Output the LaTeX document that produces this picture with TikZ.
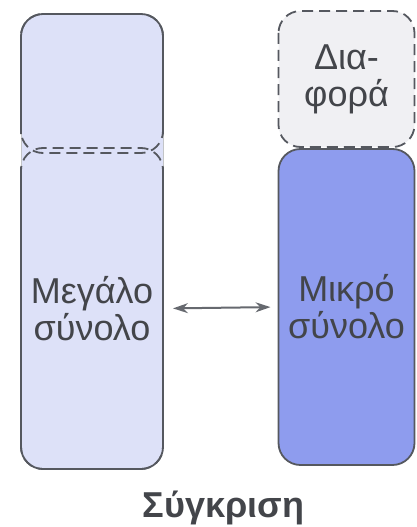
\documentclass[tikz,border=0pt]{standalone}
\usepackage{fontspec}
\setmainfont{Liberation Sans}
\usetikzlibrary{arrows.meta}
\definecolor{lightbox}{HTML}{DDE1F8}
\definecolor{darkbox}{HTML}{8E9CEE}
\definecolor{diffbox}{HTML}{F0F0F3}
\definecolor{edgecol}{HTML}{55585F}
\definecolor{txtcol}{HTML}{43454A}
\tikzset{
  boxfill/.style={rectangle, rounded corners=22pt, inner sep=0pt, outer sep=0pt, text=txtcol, font=\fontsize{36}{37}\selectfont, align=center},
  edge/.style={draw=edgecol, line width=1.8pt},
  faint/.style={draw=edgecol!35, line width=0.8pt},
  seam/.style={draw=edgecol, line width=1.8pt, dash pattern=on 11pt off 6pt},
  arr/.style={draw=edgecol!90, line width=2pt, {Stealth[length=15pt,width=10pt]}-{Stealth[length=15pt,width=10pt]}}
}
\begin{document}
\begin{tikzpicture}[x=1pt,y=-1pt]
\useasboundingbox (0,0) rectangle (417,527);
% left (large set)
\node[boxfill, fill=lightbox, minimum width=142pt, minimum height=139pt] (bigtop) at (92,83.5) {};
\node[boxfill, fill=lightbox, minimum width=142pt, minimum height=321pt] (big) at (92,308.5) {Μεγάλο\\σύνολο};
\fill[lightbox] ([yshift=22pt]bigtop.south west) rectangle ([yshift=-22pt]big.north east);
\draw[faint] ([yshift=22pt]bigtop.south west) -- ([yshift=-22pt]big.north west);
\draw[faint] ([yshift=22pt]bigtop.south east) -- ([yshift=-22pt]big.north east);
\draw[seam, rounded corners=22pt] (bigtop.north west) rectangle (bigtop.south east);
\draw[seam, rounded corners=22pt] (big.north west) rectangle (big.south east);
\draw[edge, rounded corners=22pt] ([yshift=19pt]bigtop.south west) -- (bigtop.north west) -- (bigtop.north east) -- ([yshift=19pt]bigtop.south east);
\draw[edge, rounded corners=22pt] ([yshift=-19pt]big.north west) -- (big.south west) -- (big.south east) -- ([yshift=-19pt]big.north east);
% right (difference + small set)
\node[boxfill, fill=diffbox, minimum width=136pt, minimum height=136pt] (diff) at (346.5,79) {Δια-\\φορά};
\draw[seam, rounded corners=22pt] (diff.north west) rectangle (diff.south east);
\node[boxfill, fill=darkbox, edge, minimum width=136pt, minimum height=316pt] (small) at (346.5,307) {Μικρό\\σύνολο};
% arrow
\draw[arr, shorten <=10pt, shorten >=8pt] (big.east) -- (small.west);
% caption
\node[text=txtcol, font=\bfseries\fontsize{36}{36}\selectfont] (cap) at (223.5,508) {Σύγκριση};
\end{tikzpicture}
\end{document}
